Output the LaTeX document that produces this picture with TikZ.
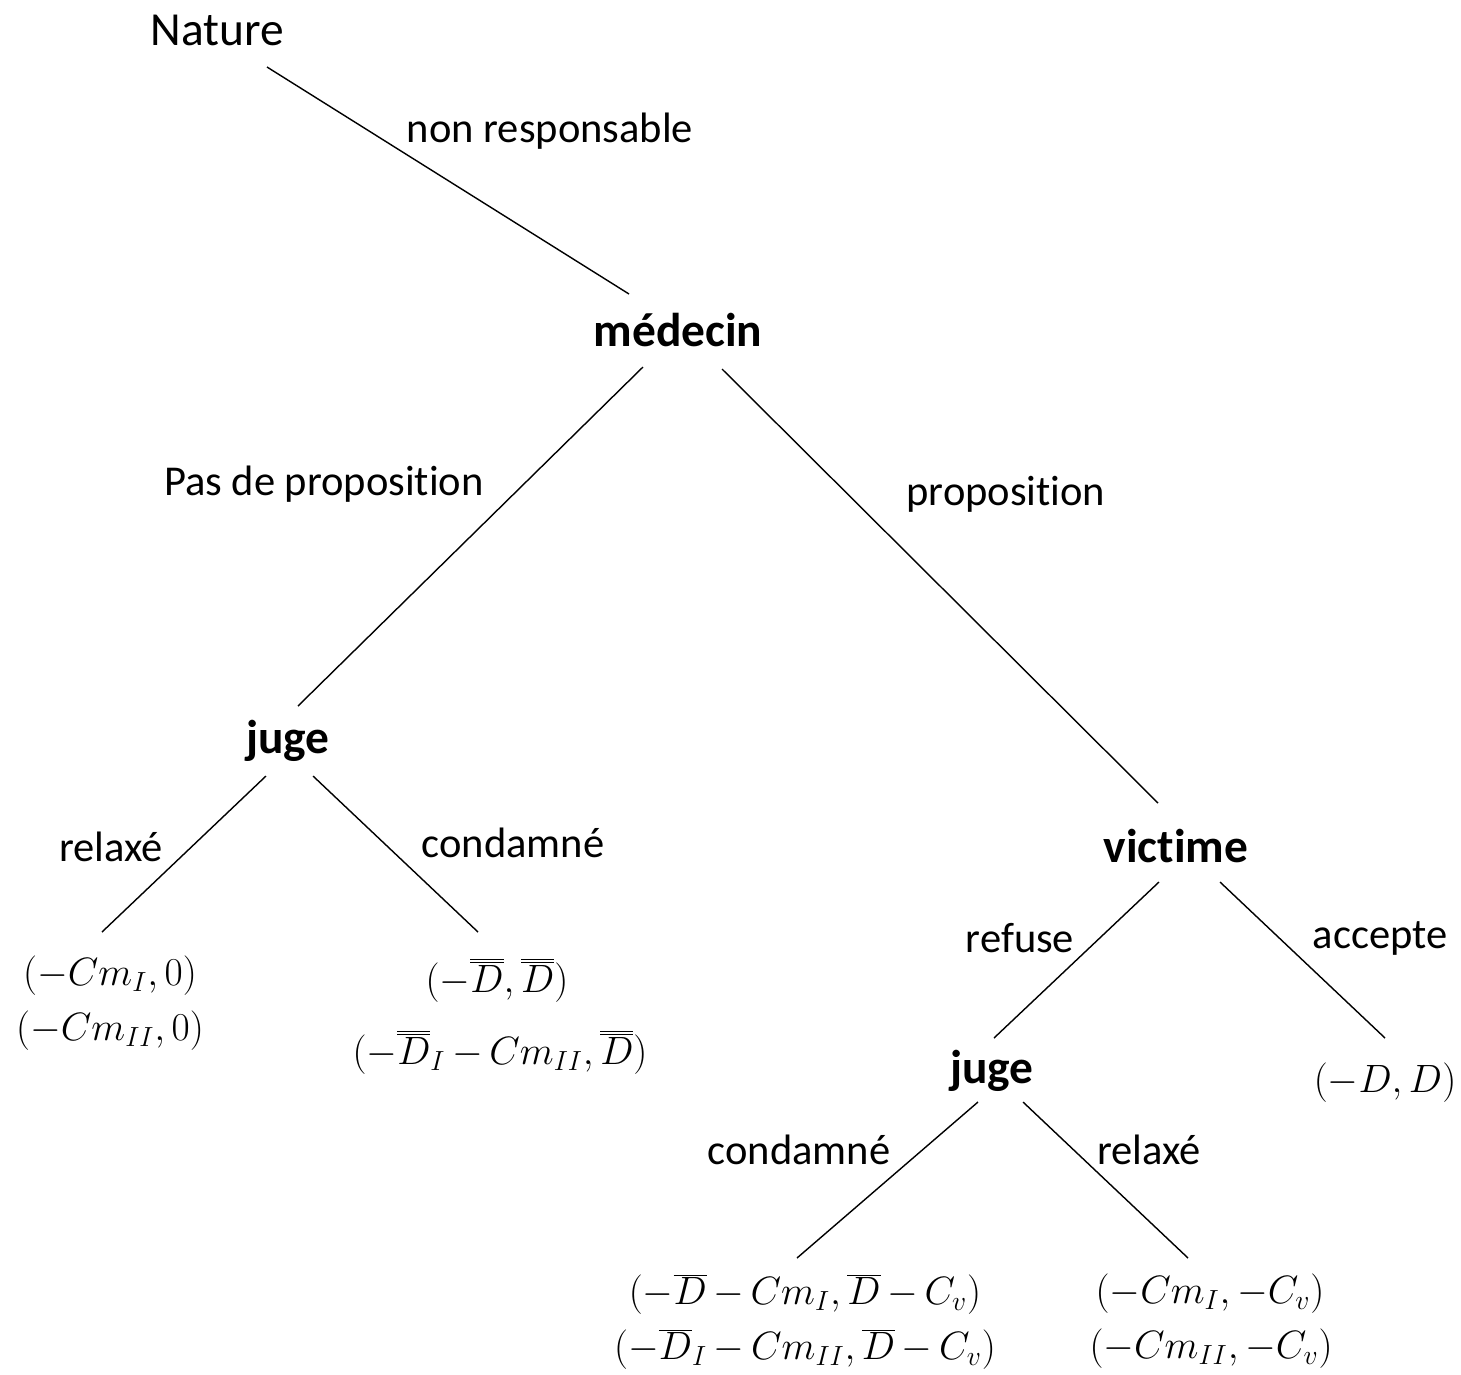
\RequirePackage{fix-cm}
\documentclass[tikz,border=0pt]{standalone}
\usepackage{fontspec}
\setmainfont{Carlito}[Ligatures=CommonOff]
\usetikzlibrary{calc}
\newcommand\paytight{\medmuskip=3mu\relax}
\begin{document}
\begin{tikzpicture}[x=0.02cm,y=-0.02cm,
  lbl/.style={inner sep=0pt,font=\fontsize{24.2}{28}\selectfont},
  player/.style={inner sep=0pt,font=\fontsize{27}{31}\selectfont\bfseries},
  pay/.style={inner sep=0pt,font=\fontsize{22.5}{27}\selectfont\paytight},
  edge/.style={line width=0.8pt}]
\useasboundingbox (0,0) rectangle (1461,1374);
% players
\node[inner sep=0pt,font=\fontsize{27}{31}\selectfont] (nature) at (217,30) {Nature};
\node[player] (medecin) at (678,330) {médecin};
\node[player] (juge1) at (288,741) {juge};
\node[player] (victime) at (1176,846) {victime};
\node[player] (juge2) at (992,1071) {juge};
% payoffs
\node[pay] (leaf1a) at (110,976) {$(-Cm_I,0)$};
\node[pay] (leaf1b) at (110,1031) {$(-Cm_{II},0)$};
\node[pay] (leaf2a) at (497,980) {$(-\overline{\overline{D}},\overline{\overline{D}})$};
\node[pay] (leaf2b) at (500,1052) {$(-\overline{\overline{D}}_I-Cm_{II},\overline{\overline{D}})$};
\node[pay] (leafD) at (1385,1083) {$(-D,D)$};
\node[pay] (leaf3a) at (805,1294) {$(-\overline{D}-Cm_I,\overline{D}-C_v)$};
\node[pay] (leaf3b) at (805,1349) {$(-\overline{D}_I-Cm_{II},\overline{D}-C_v)$};
\node[pay] (leaf4a) at (1210,1294) {$(-Cm_I,-C_v)$};
\node[pay] (leaf4b) at (1211,1349) {$(-Cm_{II},-C_v)$};
% action labels
\node[lbl] (l1) at (550,131) {non responsable};
\node[lbl] (l2) at (324,484) {Pas de proposition};
\node[lbl] (l3) at (1006,494) {proposition};
\node[lbl] (l4) at (111,847) {relaxé};
\node[lbl] (l5) at (513,843) {condamné};
\node[lbl] (l6) at (1020,938) {refuse};
\node[lbl] (l7) at (1380,938) {accepte};
\node[lbl] (l8) at (799,1150) {condamné};
\node[lbl] (l9) at (1149,1150) {relaxé};
% edges
\draw[edge] ([shift={(50,37)}]nature.center) -- ([shift={(-49,-36)}]medecin.center);
\draw[edge] ([shift={(-35,37)}]medecin.center) -- ([shift={(10,-35)}]juge1.center);
\draw[edge] ([shift={(44,39)}]medecin.center) -- ([shift={(-18,-43)}]victime.center);
\draw[edge] ([shift={(-22,35)}]juge1.center) -- ([shift={(-8,-44)}]leaf1a.center);
\draw[edge] ([shift={(25,35)}]juge1.center) -- ([shift={(-19,-48)}]leaf2a.center);
\draw[edge] ([shift={(-17,36)}]victime.center) -- ([shift={(2,-33)}]juge2.center);
\draw[edge] ([shift={(44,36)}]victime.center) -- ([shift={(0,-45)}]leafD.center);
\draw[edge] ([shift={(-14,31)}]juge2.center) -- ([shift={(-8,-36)}]leaf3a.center);
\draw[edge] ([shift={(31,31)}]juge2.center) -- ([shift={(-22,-36)}]leaf4a.center);
\end{tikzpicture}
\end{document}
